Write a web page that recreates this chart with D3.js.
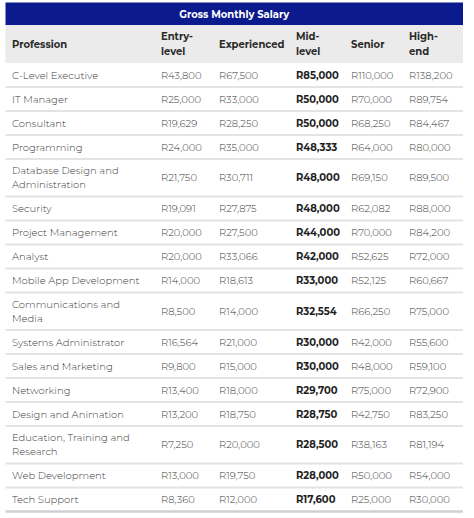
<!DOCTYPE html>
<html><head><meta charset="utf-8">
<script src="https://cdn.jsdelivr.net/npm/d3@7"></script>
<style>
html,body{margin:0;padding:0;background:#fff;}
svg{display:block;}
</style></head>
<body>
<svg id="chart" width="474" height="518"></svg>
<script>
const title = "Gross Monthly Salary";
const columns = ["Profession", "Entry-\nlevel", "Experienced", "Mid-\nlevel", "Senior", "High-\nend"];
const professions = ["C-Level Executive","IT Manager","Consultant","Programming","Database Design and Administration","Security","Project Management","Analyst","Mobile App Development","Communications and Media","Systems Administrator","Sales and Marketing","Networking","Design and Animation","Education, Training and Research","Web Development","Tech Support"];
const entryLevel = [43800,25000,19629,24000,21750,19091,20000,20000,14000,8500,16564,9800,13400,13200,7250,13000,8360];
const experienced = [67500,33000,28250,35000,30711,27875,27500,33066,18613,14000,21000,15000,18000,18750,20000,19750,12000];
const midLevel = [85000,50000,50000,48333,48000,48000,44000,42000,33000,32554,30000,30000,29700,28750,28500,28000,17600];
const senior = [110000,70000,68250,64000,69150,62082,70000,52625,52125,66250,42000,48000,75000,42750,38163,50000,25000];
const highEnd = [138200,89754,84467,80000,89500,88000,84200,72000,60667,75000,55600,59100,72900,83250,81194,54000,30000];

const svg = d3.select("#chart");
const left = 5.5, right = 463;
const FONT = "Montserrat, 'Open Sans', 'Noto Sans', sans-serif";
const FS = 10;
const fmt = v => "R" + d3.format(",")(v);
const colX = [12, 161, 219, 296, 351, 409];
const series = [entryLevel, experienced, midLevel, senior, highEnd];

// title bar
svg.append("rect").attr("x", left).attr("y", 2.5).attr("width", right-left).attr("height", 22.5).attr("fill", "#0b1a8c");
svg.append("text").attr("x", (left+right)/2).attr("y", 14).attr("text-anchor","middle").attr("dominant-baseline","central")
  .attr("font-family", FONT).attr("font-weight","bold").attr("font-size", FS).attr("fill","#fff").text(title);

// header
const headTop = 25, headH = 38;
svg.append("rect").attr("x", left).attr("y", headTop).attr("width", right-left).attr("height", headH).attr("fill", "#ebebeb");
columns.forEach((c,i) => {
  const lines = c.split("\n");
  const t = svg.append("text").attr("font-family", FONT).attr("font-weight","bold").attr("font-size", FS).attr("fill","#2b2b2b");
  lines.forEach((ln,j) => {
    t.append("tspan").attr("x", colX[i]).attr("y", headTop + headH/2 + (j - (lines.length-1)/2)*14.5).attr("dominant-baseline","central").text(ln);
  });
});

// wrap helper
const measure = svg.append("text").attr("font-family", FONT).attr("font-size", FS).attr("font-weight", 300).attr("visibility","hidden");
function wrap(s, maxW) {
  const words = s.split(" ");
  const lines = []; let cur = "";
  words.forEach(w => {
    const trial = cur ? cur + " " + w : w;
    measure.text(trial);
    if (measure.node().getComputedTextLength() > maxW && cur) { lines.push(cur); cur = w; }
    else cur = trial;
  });
  if (cur) lines.push(cur);
  return lines;
}
const labelLines = professions.map(p => wrap(p, 135));
measure.remove();

const singleH = 24, doubleH = 37.5;
let y = headTop + headH;
const rowsY = labelLines.map(l => { const top = y; const h = l.length > 1 ? doubleH : singleH; y += h; return {top, h}; });

const rows = svg.append("g").selectAll("g").data(professions).join("g");
rows.each(function(p, i) {
  const g = d3.select(this);
  const {top, h} = rowsY[i];
  const cy = top + h/2;
  const t = g.append("text").attr("font-family", FONT).attr("font-size", FS).attr("font-weight", 300).attr("fill","#3d3d3d");
  const L = labelLines[i];
  L.forEach((ln, j) => {
    t.append("tspan").attr("x", colX[0]).attr("y", cy + (j - (L.length-1)/2)*14).attr("dominant-baseline","central").text(ln);
  });
  series.forEach((s, k) => {
    g.append("text").attr("x", colX[k+1]).attr("y", cy).attr("dominant-baseline","central")
      .attr("font-family", FONT).attr("font-size", FS)
      .attr("font-weight", k === 2 ? "bold" : 300)
      .attr("fill", k === 2 ? "#1e1e1e" : "#3d3d3d")
      .text(fmt(s[i]));
  });
  const last = i === professions.length - 1;
  g.append("line").attr("x1", left).attr("x2", right).attr("y1", top + h).attr("y2", top + h)
    .attr("stroke", last ? "#cfcfd6" : "#e3e3e3").attr("stroke-width", last ? 2.5 : 2);
});
</script>
</body></html>
